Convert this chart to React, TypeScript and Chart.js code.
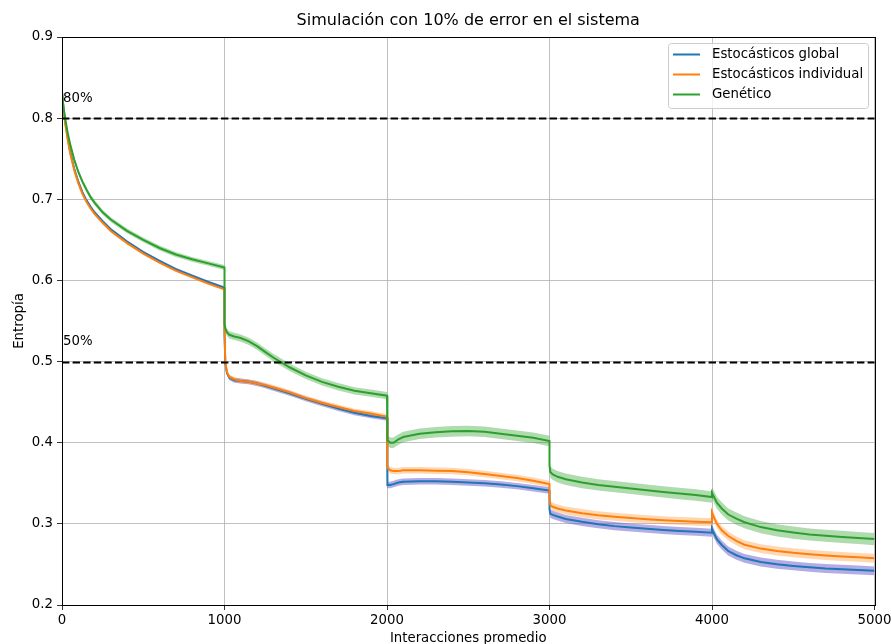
import React, { useEffect, useRef } from "react";
import { Chart, registerables } from "chart.js";

Chart.register(...registerables);

const TITLE = "Simulación con 10% de error en el sistema";
const X_LABEL = "Interacciones promedio";
const Y_LABEL = "Entropía";
const SERIES_NAMES = ["Estocásticos global", "Estocásticos individual", "Genético"];
const X_TICKS = [0, 1000, 2000, 3000, 4000, 5000];
const Y_TICKS = [0.2, 0.3, 0.4, 0.5, 0.6, 0.7, 0.8, 0.9];
const REF_LINES = [0.8, 0.5];
const REF_LABELS = ["80%", "50%"];

// iteration positions (a repeated x marks the jump at the start of a new block)
const ITER = [
  0, 10, 20, 35, 50, 75, 100, 125, 150, 175, 200, 250, 300, 400, 500, 600, 700, 800, 900, 1000,
  1000, 1005, 1015, 1030, 1060, 1100, 1150, 1200, 1250, 1300, 1400, 1500, 1600, 1700, 1800, 1900, 2000,
  2000, 2005, 2020, 2040, 2070, 2100, 2200, 2300, 2400, 2500, 2600, 2700, 2800, 2900, 3000,
  3000, 3005, 3020, 3050, 3100, 3200, 3300, 3400, 3500, 3600, 3700, 3800, 3900, 4000,
  4000, 4010, 4030, 4060, 4100, 4150, 4200, 4300, 4400, 4500, 4600, 4700, 4800, 4900, 5000,
];

const GLOBAL = [
  0.833, 0.811, 0.795, 0.776, 0.759, 0.738, 0.722, 0.709, 0.699, 0.691, 0.684, 0.673, 0.663, 0.648, 0.635, 0.624, 0.614, 0.606, 0.598, 0.591,
  0.535, 0.498, 0.486, 0.48, 0.477, 0.476, 0.475, 0.473, 0.47, 0.467, 0.461, 0.454, 0.448, 0.442, 0.437, 0.433, 0.43,
  0.375, 0.348, 0.348, 0.349, 0.351, 0.352, 0.3525, 0.3525, 0.352, 0.351, 0.35, 0.3485, 0.3465, 0.344, 0.341,
  0.318, 0.3125, 0.311, 0.309, 0.306, 0.3025, 0.2995, 0.2972, 0.2955, 0.294, 0.2925, 0.2912, 0.2902, 0.289,
  0.294, 0.289, 0.281, 0.274, 0.2665, 0.2613, 0.2575, 0.253, 0.2503, 0.2482, 0.2464, 0.245, 0.2441, 0.2432, 0.2421,
];

const INDIVIDUAL = [
  0.83, 0.809, 0.793, 0.774, 0.757, 0.736, 0.72, 0.707, 0.697, 0.689, 0.682, 0.671, 0.661, 0.646, 0.633, 0.622, 0.612, 0.604, 0.596, 0.589,
  0.54, 0.5, 0.487, 0.481, 0.478, 0.476, 0.475, 0.473, 0.471, 0.468, 0.462, 0.455, 0.449, 0.444, 0.439, 0.436, 0.432,
  0.38, 0.369, 0.366, 0.365, 0.365, 0.366, 0.366, 0.3655, 0.365, 0.3635, 0.3615, 0.359, 0.3565, 0.353, 0.349,
  0.332, 0.323, 0.321, 0.319, 0.3165, 0.3132, 0.3105, 0.3087, 0.3071, 0.3056, 0.3045, 0.3035, 0.3027, 0.302,
  0.314, 0.309, 0.3, 0.292, 0.285, 0.279, 0.2743, 0.2695, 0.2665, 0.2643, 0.2626, 0.2611, 0.2598, 0.2587, 0.2576,
];

const GENETIC = [
  0.83, 0.812, 0.799, 0.782, 0.768, 0.749, 0.734, 0.722, 0.712, 0.703, 0.696, 0.684, 0.675, 0.661, 0.65, 0.64, 0.632, 0.626, 0.621, 0.616,
  0.546, 0.541, 0.536, 0.533, 0.531, 0.529, 0.525, 0.519, 0.512, 0.505, 0.493, 0.483, 0.475, 0.469, 0.464, 0.461, 0.458,
  0.41, 0.403, 0.4, 0.4, 0.404, 0.407, 0.411, 0.413, 0.414, 0.4145, 0.4135, 0.411, 0.4085, 0.406, 0.402,
  0.372, 0.364, 0.361, 0.358, 0.355, 0.351, 0.348, 0.3458, 0.3437, 0.3415, 0.3394, 0.3374, 0.3356, 0.333,
  0.338, 0.334, 0.326, 0.319, 0.3115, 0.3065, 0.302, 0.296, 0.292, 0.2893, 0.2869, 0.2853, 0.2839, 0.2826, 0.2812,
];

// half-width of the shaded band, one value per 1000-interaction block
const GLOBAL_SPREAD = [0.0015, 0.003, 0.004, 0.005, 0.0055];
const INDIVIDUAL_SPREAD = [0.0015, 0.003, 0.004, 0.005, 0.0055];
const GENETIC_SPREAD = [0.003, 0.0045, 0.0065, 0.007, 0.0075];

const LINE_COLORS = ["#1f77b4", "#ff7f0e", "#2ca02c"];
const BAND_COLORS = ["rgba(106,90,205,0.5)", "rgba(255,150,50,0.38)", "rgba(44,160,44,0.38)"];

const FONT = "DejaVu Sans";

function blockIndex(): number[] {
  const out: number[] = [];
  let b = 0;
  ITER.forEach((x, i) => {
    if (i > 0 && x === ITER[i - 1]) b++;
    out.push(b);
  });
  return out;
}

export default function App() {
  const ref = useRef<HTMLCanvasElement | null>(null);

  useEffect(() => {
    document.body.style.margin = "0";
    const canvas = ref.current;
    if (!canvas) return;
    const blocks = blockIndex();
    const means = [GLOBAL, INDIVIDUAL, GENETIC];
    const spreads = [GLOBAL_SPREAD, INDIVIDUAL_SPREAD, GENETIC_SPREAD];

    const lineSets: any[] = [];
    const bandSets: any[] = [];
    [2, 1, 0].forEach((s) => {
      lineSets.push({
        label: SERIES_NAMES[s],
        data: ITER.map((x, i) => ({ x, y: means[s][i] })),
        borderColor: LINE_COLORS[s],
        backgroundColor: LINE_COLORS[s],
        borderWidth: 2,
        pointRadius: 0,
        fill: false,
        tension: 0,
      });
    });
    [2, 1, 0].forEach((s) => {
      bandSets.push({
        label: "band-up-" + s,
        data: ITER.map((x, i) => ({ x, y: means[s][i] + spreads[s][blocks[i]] })),
        borderWidth: 0,
        borderColor: "rgba(0,0,0,0)",
        backgroundColor: BAND_COLORS[s],
        pointRadius: 0,
        fill: "+1",
        tension: 0,
      });
      bandSets.push({
        label: "band-low-" + s,
        data: ITER.map((x, i) => ({ x, y: means[s][i] - spreads[s][blocks[i]] })),
        borderWidth: 0,
        borderColor: "rgba(0,0,0,0)",
        backgroundColor: BAND_COLORS[s],
        pointRadius: 0,
        fill: false,
        tension: 0,
      });
    });

    const decor = {
      id: "decor",
      afterDatasetsDraw(chart: any) {
        const { ctx, chartArea: a, scales } = chart;
        const xs = scales.x;
        const ys = scales.y;
        ctx.save();
        // reference dashed lines
        ctx.strokeStyle = "#000";
        ctx.lineWidth = 2;
        ctx.setLineDash([7.4, 3.2]);
        REF_LINES.forEach((v) => {
          const y = Math.round(ys.getPixelForValue(v)) + 0.5;
          ctx.beginPath();
          ctx.moveTo(a.left, y);
          ctx.lineTo(a.right, y);
          ctx.stroke();
        });
        ctx.setLineDash([]);
        ctx.fillStyle = "#000";
        ctx.font = `13.3px "${FONT}"`;
        ctx.textAlign = "left";
        ctx.textBaseline = "alphabetic";
        REF_LINES.forEach((v, i) => {
          ctx.fillText(REF_LABELS[i], xs.getPixelForValue(0) + 1, ys.getPixelForValue(v + 0.02));
        });
        // spines
        ctx.strokeStyle = "#000";
        ctx.lineWidth = 1;
        ctx.strokeRect(Math.round(a.left) + 0.5, Math.round(a.top) + 0.5, Math.round(a.right - a.left), Math.round(a.bottom - a.top));
        // title
        ctx.font = `16px "${FONT}"`;
        ctx.textAlign = "center";
        ctx.fillText(TITLE, (a.left + a.right) / 2, 25);
        // axis titles
        ctx.font = `13.3px "${FONT}"`;
        ctx.fillText(X_LABEL, (a.left + a.right) / 2, 642);
        ctx.save();
        ctx.translate(23, (a.top + a.bottom) / 2);
        ctx.rotate(-Math.PI / 2);
        ctx.fillText(Y_LABEL, 0, 0);
        ctx.restore();
        // legend
        const lx = 668.5, ly = 43.5, lw = 200, lh = 65;
        ctx.fillStyle = "rgba(255,255,255,0.8)";
        ctx.strokeStyle = "#cccccc";
        ctx.lineWidth = 1;
        ctx.beginPath();
        ctx.roundRect(lx, ly, lw, lh, 3);
        ctx.fill();
        ctx.stroke();
        ctx.textAlign = "left";
        ctx.textBaseline = "middle";
        SERIES_NAMES.forEach((name, i) => {
          const y = 54.5 + i * 20;
          ctx.strokeStyle = LINE_COLORS[i];
          ctx.lineWidth = 2;
          ctx.beginPath();
          ctx.moveTo(673, y);
          ctx.lineTo(700, y);
          ctx.stroke();
          ctx.fillStyle = "#000";
          ctx.fillText(name, 712, y);
        });
        ctx.restore();
      },
    };

    const chart = new Chart(canvas, {
      type: "line",
      data: { datasets: [...lineSets, ...bandSets] },
      options: {
        animation: false,
        responsive: false,
        devicePixelRatio: 1,
        layout: { padding: { top: 37, right: 16.5, left: 0, bottom: 0 } },
        plugins: {
          legend: { display: false },
          title: { display: false },
          tooltip: { enabled: false },
        },
        scales: {
          x: {
            type: "linear",
            min: 0,
            max: 5000,
            afterFit: (s: any) => {
              s.height = 39;
              s.paddingLeft = 0;
              s.paddingRight = 0;
            },
            afterBuildTicks: (s: any) => { s.ticks = X_TICKS.map((v) => ({ value: v })); },
            ticks: {
              font: { family: FONT, size: 13.3 },
              color: "#000",
              padding: 3,
              maxRotation: 0,
              callback: (v: any) => String(v),
            },
            grid: { color: "#b0b0b0", lineWidth: 0.8, tickColor: "#000", tickLength: 5 },
            border: { display: false },
          },
          y: {
            type: "linear",
            min: 0.2,
            max: 0.9,
            afterFit: (s: any) => {
              s.width = 62;
              s.paddingTop = 0;
              s.paddingBottom = 0;
            },
            afterBuildTicks: (s: any) => { s.ticks = Y_TICKS.map((v) => ({ value: v })); },
            ticks: {
              font: { family: FONT, size: 13.3 },
              color: "#000",
              padding: 4,
              callback: (v: any) => Number(v).toFixed(1),
            },
            grid: { color: "#b0b0b0", lineWidth: 0.8, tickColor: "#000", tickLength: 5 },
            border: { display: false },
          },
        },
      },
      plugins: [decor],
    } as any);
    return () => chart.destroy();
  }, []);

  return (
    <div style={{ position: "absolute", left: 0, top: 0, width: 891, height: 644, background: "#fff" }}>
      <canvas ref={ref} width={891} height={644} />
    </div>
  );
}
